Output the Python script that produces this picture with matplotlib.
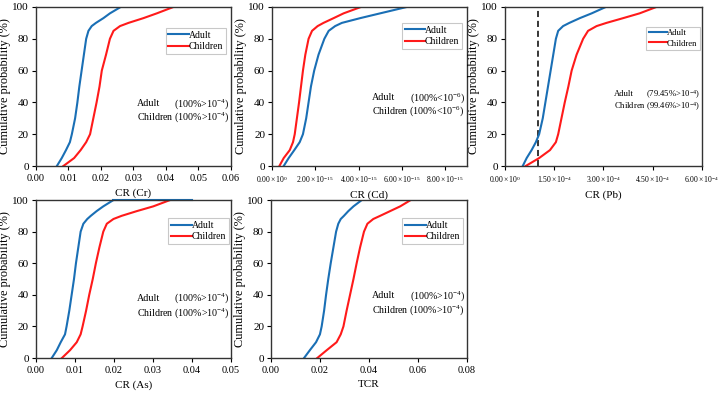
import matplotlib
matplotlib.use("Agg")
import matplotlib.pyplot as plt
from matplotlib.ticker import FixedLocator, FixedFormatter

plt.rcParams['font.family'] = ['Liberation Serif', 'DejaVu Serif']
plt.rcParams['mathtext.fontset'] = 'custom'
plt.rcParams['mathtext.rm'] = 'Liberation Serif'
plt.rcParams['mathtext.it'] = 'Liberation Serif:italic'

# cumulative probability levels (%)
prob = [0, 5, 10, 15, 20, 30, 40, 50, 60, 70, 80, 85, 88, 90, 93, 96, 100]

cr_adult = [0.0065, 0.0080, 0.0093, 0.0105, 0.0111, 0.0121, 0.0128, 0.0134, 0.0141,
            0.0148, 0.0155, 0.0162, 0.0172, 0.0185, 0.0208, 0.0228, 0.0261]
cr_child = [0.0085, 0.0118, 0.0138, 0.0155, 0.0167, 0.0177, 0.0187, 0.0196, 0.0203,
            0.0216, 0.0228, 0.0239, 0.0259, 0.0285, 0.0331, 0.0372, 0.0423]

# Cd values in units of 1e-15
cd_adult = [0.54, 0.77, 1.03, 1.28, 1.43, 1.58, 1.69, 1.80, 1.95, 2.15, 2.42, 2.62,
            2.92, 3.23, 4.08, 5.00, 6.23]
cd_child = [0.34, 0.54, 0.82, 0.97, 1.05, 1.15, 1.25, 1.34, 1.43, 1.54, 1.69, 1.85,
            2.11, 2.38, 2.85, 3.31, 4.11]

# Pb values in units of 1e-4
pb_adult = [0.54, 0.66, 0.81, 0.94, 1.04, 1.15, 1.23, 1.31, 1.39, 1.47, 1.55, 1.62,
            1.77, 1.96, 2.28, 2.64, 3.07]
pb_child = [0.63, 1.04, 1.37, 1.55, 1.62, 1.72, 1.82, 1.93, 2.03, 2.18, 2.38, 2.53,
            2.79, 3.09, 3.60, 4.10, 4.61]

as_adult = [0.0041, 0.0054, 0.0064, 0.0075, 0.0079, 0.0086, 0.0092, 0.0098, 0.0103,
            0.0109, 0.0115, 0.0122, 0.0132, 0.0141, 0.0156, 0.0173, 0.0199]
as_adult_tail = [0.0199, 0.0399]
as_child = [0.0067, 0.0088, 0.0105, 0.0115, 0.0120, 0.0129, 0.0137, 0.0146, 0.0154,
            0.0163, 0.0173, 0.0182, 0.0199, 0.0220, 0.0259, 0.0301, 0.0344]

tcr_adult = [0.0135, 0.0159, 0.0184, 0.0200, 0.0207, 0.0217, 0.0225, 0.0234, 0.0244,
             0.0255, 0.0266, 0.0275, 0.0285, 0.0298, 0.0316, 0.0337, 0.0371]
tcr_child = [0.0189, 0.0228, 0.0268, 0.0285, 0.0296, 0.0309, 0.0323, 0.0337, 0.0350,
             0.0364, 0.0380, 0.0394, 0.0418, 0.0446, 0.0487, 0.0528, 0.0571]

yticks = [0, 20, 40, 60, 80, 100]
cd_ticks = [0, 2, 4, 6, 8]
cd_labels = [r'$\mathregular{0.00\times10^{0}}$', r'$\mathregular{2.00\times10^{-15}}$',
             r'$\mathregular{4.00\times10^{-15}}$', r'$\mathregular{6.00\times10^{-15}}$',
             r'$\mathregular{8.00\times10^{-15}}$']
pb_ticks = [0, 1.5, 3.0, 4.5, 6.0]
pb_labels = [r'$\mathregular{0.00\times10^{0}}$', r'$\mathregular{1.50\times10^{-4}}$',
             r'$\mathregular{3.00\times10^{-4}}$', r'$\mathregular{4.50\times10^{-4}}$',
             r'$\mathregular{6.00\times10^{-4}}$']

BLUE = '#1a6fb5'
RED = '#ff1a1a'
SPINE = '#333333'

fig = plt.figure(figsize=(7.26, 3.93), dpi=100)

def make_ax(rect, xlabel, xlim, xticks, xticklabels=None, tick_fs=7.5):
    ax = fig.add_axes(rect)
    ax.set_xlim(*xlim)
    ax.set_ylim(0, 100)
    ax.set_yticks(yticks)
    ax.xaxis.set_major_locator(FixedLocator(xticks))
    if xticklabels is not None:
        ax.xaxis.set_major_formatter(FixedFormatter(xticklabels))
    else:
        ax.xaxis.set_major_formatter(FixedFormatter(['%.2f' % t for t in xticks]))
    ax.tick_params(axis='both', direction='out', length=3, width=0.8,
                   labelsize=8, pad=2, colors='black')
    ax.tick_params(axis='x', labelsize=tick_fs, pad=3)
    for s in ax.spines.values():
        s.set_color(SPINE)
        s.set_linewidth(1.0)
    ax.set_xlabel(xlabel, fontsize=8, labelpad=3.5)
    ax.set_ylabel('Cumulative probability (%)', fontsize=8.8, labelpad=1)
    return ax

def add_legend(ax, right, top, fs=7):
    leg = ax.legend(loc='upper right', bbox_to_anchor=(right, top), fontsize=fs,
                    handlelength=2.1, handletextpad=0.0, borderpad=0.3,
                    labelspacing=0.25, frameon=True, fancybox=False,
                    borderaxespad=0)
    leg.get_frame().set_edgecolor('#bbbbbb')
    leg.get_frame().set_linewidth(0.8)

notes = []

def add_note(ax, ya, yc, a_txt, c_txt, fs=7.2):
    kw = dict(transform=ax.transAxes, fontsize=fs, va='center')
    tc = ax.text(0.99, yc, 'Children ' + c_txt, ha='right', **kw)
    ta = ax.text(0.5, ya, 'Adult', ha='left', **kw)
    ax.text(0.99, ya, a_txt, ha='right', **kw)
    notes.append((ax, tc, ta))

gt4 = r'(100%>10$^{-4}$)'

# Panel 1: Cr
ax1 = make_ax([0.0492, 0.5776, 0.269, 0.4046], 'CR (Cr)', (0, 0.06),
              [0, 0.01, 0.02, 0.03, 0.04, 0.05, 0.06])
ax1.plot(cr_adult, prob, color=BLUE, lw=1.5, label='Adult')
ax1.plot(cr_child, prob, color=RED, lw=1.5, label='Children')
add_legend(ax1, 0.975, 0.87)
add_note(ax1, 0.39, 0.305, gt4, gt4)

# Panel 2: Cd
ax2 = make_ax([0.3747, 0.5776, 0.268, 0.4046], 'CR (Cd)', (0, 9), cd_ticks, cd_labels,
              tick_fs=5.5)
ax2.plot(cd_adult, prob, color=BLUE, lw=1.5, label='Adult')
ax2.plot(cd_child, prob, color=RED, lw=1.5, label='Children')
add_legend(ax2, 0.978, 0.90)
add_note(ax2, 0.43, 0.345, r'(100%<10$^{-6}$)', r'(100%<10$^{-6}$)')

# Panel 3: Pb
ax3 = make_ax([0.6956, 0.5776, 0.2713, 0.4046], 'CR (Pb)', (0, 6), pb_ticks, pb_labels,
              tick_fs=5.5)
ax3.axvline(1.0, color='black', lw=1.1, ls=(0, (4, 2.5)))
ax3.plot(pb_adult, prob, color=BLUE, lw=1.5, label='Adult')
ax3.plot(pb_child, prob, color=RED, lw=1.5, label='Children')
add_legend(ax3, 0.99, 0.876, fs=6.2)
add_note(ax3, 0.45, 0.37, r'(79.45%>10$^{-4}$)', r'(99.46%>10$^{-4}$)', fs=6.2)

# Panel 4: As
ax4 = make_ax([0.0492, 0.089, 0.269, 0.402], 'CR (As)', (0, 0.05),
              [0, 0.01, 0.02, 0.03, 0.04, 0.05])
ax4.plot(as_adult, prob, color=BLUE, lw=1.5, label='Adult')
ax4.plot(as_adult_tail, [100, 100], color=BLUE, lw=1.5, clip_on=False)
ax4.plot(as_child, prob, color=RED, lw=1.5, label='Children')
add_legend(ax4, 0.99, 0.886)
add_note(ax4, 0.378, 0.287, gt4, gt4)

# Panel 5: TCR
ax5 = make_ax([0.3733, 0.089, 0.2696, 0.402], 'TCR', (0, 0.08),
              [0, 0.02, 0.04, 0.06, 0.08])
ax5.plot(tcr_adult, prob, color=BLUE, lw=1.5, label='Adult')
ax5.plot(tcr_child, prob, color=RED, lw=1.5, label='Children')
add_legend(ax5, 0.98, 0.886)
add_note(ax5, 0.395, 0.305, gt4, gt4)

# align "Adult" with the left edge of the "Children ..." line
fig.canvas.draw()
renderer = fig.canvas.get_renderer()
for ax, tc, ta in notes:
    bb = tc.get_window_extent(renderer)
    x_ax = ax.transAxes.inverted().transform((bb.x0, bb.y0))[0]
    ta.set_x(x_ax)

fig.savefig('out.png', dpi=100)
